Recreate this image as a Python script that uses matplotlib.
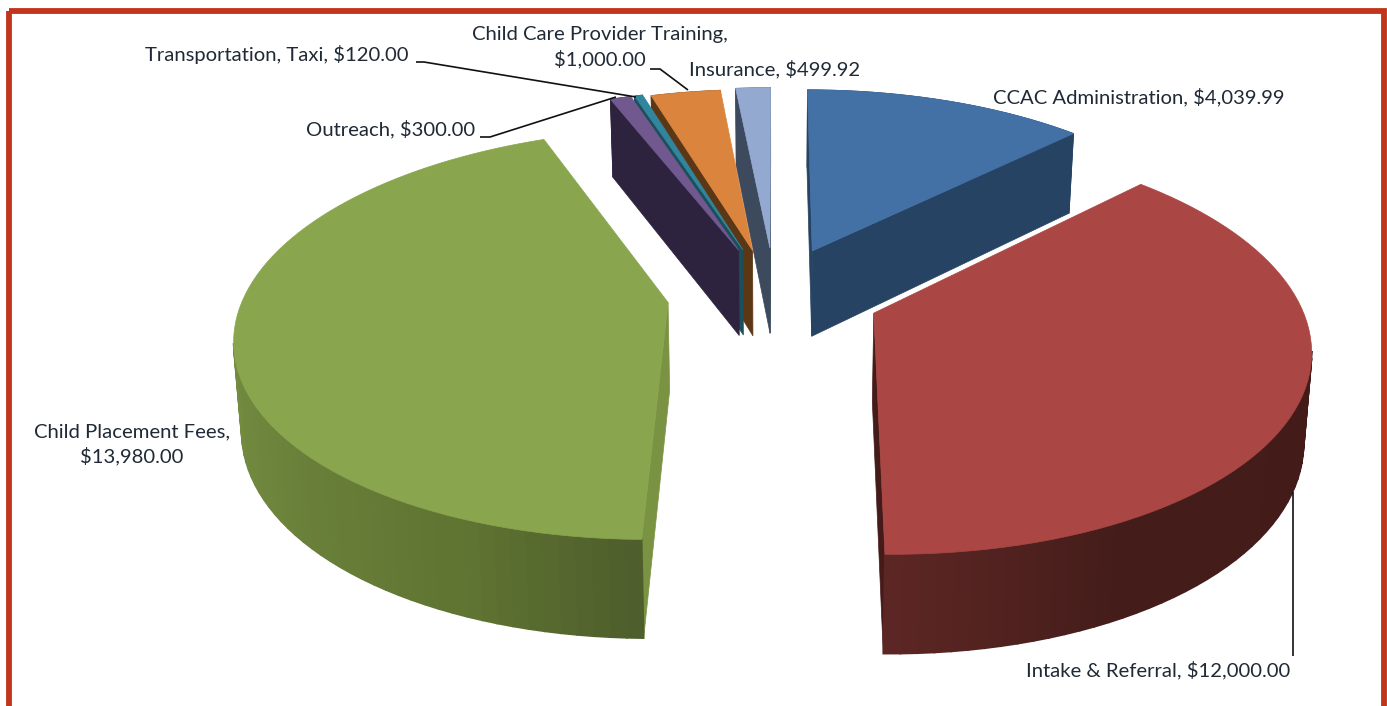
import numpy as np
import matplotlib
matplotlib.use("Agg")
import matplotlib.pyplot as plt
from matplotlib.patches import Polygon, Rectangle

# values of the pie
categories = ["CCAC Administration", "Intake & Referral", "Child Placement Fees", "Outreach",
              "Transportation, Taxi", "Child Care Provider Training", "Insurance"]
values = [4039.99, 12000.00, 13980.00, 300.00, 120.00, 1000.00, 499.92]

# colours per slice: top, cut face
top_colors = ["#4371a6", "#aa4644", "#89a54e", "#71588f", "#31859c", "#db843d", "#93a9cf"]
face_colors = ["#264363", "#451b19", "#7a9343", "#2e233f", "#1c4f5c", "#5c3715", "#3d4a5e"]
# wall shading along the rim of the two big slices: position on rim, rgb
wall_ramps = {1: ([0, 0.8, 1], [(66, 27, 24), (68, 29, 26), (92, 38, 36)]),
              2: ([0, 0.13, 0.35, 0.6, 1], [(78, 94, 44), (96, 116, 50), (108, 132, 60), (122, 146, 68), (128, 152, 72)])}

# painted back to front, the thin slices overlap from the right
draw_order = [0, 6, 5, 4, 3, 2, 1]

# world explode per slice, x and depth are not the same on this picture
explode_x = [0.235, 0.25, 0.255, 0.26, 0.26, 0.28, 0.25]
explode_y = [0.20, 0.345, 0.46, 0.20, 0.20, 0.19, 0.20]

# projection of the pie plane to pixels
VX, F, HORIZON, CY, P = 775.0, 421.0, -1000.0, 286.0, 0.152
HEIGHT = 87.0
BOTTOM_SQUEEZE = 0.985


def project(x, y, bottom=False):
    s = 1.0 / (1.0 + P * y)
    px = VX + F * x * s
    py = HORIZON + (CY - HORIZON) * s
    if bottom:
        px = VX + (px - VX) * BOTTOM_SQUEEZE
        py = py + HEIGHT * s ** 0.7
    return px, py


fig = plt.figure(figsize=(13.87, 7.06), dpi=100)
ax = fig.add_axes([0, 0, 1, 1])
ax.set_xlim(0, 1387)
ax.set_ylim(706, 0)
ax.axis("off")

total = sum(values)
angles = np.cumsum([0] + values) / total * 2 * np.pi

for z, i in enumerate(draw_order):
    base = 2 + z * 3
    t0, t1 = angles[i], angles[i + 1]
    mid = (t0 + t1) / 2
    ox = np.sin(mid) * explode_x[i]
    oy = np.cos(mid) * explode_y[i]
    theta = np.linspace(t0, t1, max(int((t1 - t0) * 30), 6))
    rim_x = ox + np.sin(theta)
    rim_y = oy + np.cos(theta)

    tx, ty = project(rim_x, rim_y)
    bx, by = project(rim_x, rim_y, bottom=True)
    ax_t, ay_t = project(ox, oy)
    ax_b, ay_b = project(ox, oy, bottom=True)

    # cut faces, only those turned to the viewer
    if tx[0] < ax_t:
        ax.add_patch(Polygon([(ax_t, ay_t), (tx[0], ty[0]), (bx[0], by[0]), (ax_b, ay_b)],
                             fc=face_colors[i], ec=face_colors[i], lw=0.5, zorder=base))
    if tx[-1] > ax_t:
        ax.add_patch(Polygon([(ax_t, ay_t), (tx[-1], ty[-1]), (bx[-1], by[-1]), (ax_b, ay_b)],
                             fc=face_colors[i], ec=face_colors[i], lw=0.5, zorder=base))

    # outer wall in strips so it can be shaded along the rim, back part stays hidden
    if i in wall_ramps:
        pos, rgb = wall_ramps[i]
        rgb = np.array(rgb) / 255
        for j in range(len(theta) - 1):
            if tx[j + 1] >= tx[j]:
                continue
            u = j / (len(theta) - 2)
            c = [np.interp(u, pos, rgb[:, k]) for k in range(3)]
            ax.add_patch(Polygon([(tx[j], ty[j]), (tx[j + 1], ty[j + 1]), (bx[j + 1], by[j + 1]), (bx[j], by[j])],
                                 fc=c, ec=c, lw=1.2, zorder=base + 1))
    else:
        ax.add_patch(Polygon(np.r_[np.c_[tx, ty], np.c_[bx, by][::-1]],
                             fc=face_colors[i], ec=face_colors[i], lw=0.5, zorder=base + 1))

    # top of the slice
    ax.add_patch(Polygon(np.r_[[(ax_t, ay_t)], np.c_[tx, ty]], fc=top_colors[i], ec=top_colors[i],
                         lw=0.5, zorder=base + 2))

# data labels
TEXT_COLOR = "#1f2a36"
FONT = dict(family="Lato", fontsize=14.6, color=TEXT_COLOR, zorder=40)


def money(v):
    return f"${v:,.2f}"


ax.text(1139, 97, f"{categories[0]}, {money(values[0])}", ha="center", va="center", **FONT)
ax.text(1158, 670, f"{categories[1]}, {money(values[1])}", ha="center", va="center", **FONT)
ax.text(132, 444, f"{categories[2]},\n{money(values[2])}", ha="center", va="center", linespacing=1.4, **FONT)
ax.text(391, 129, f"{categories[3]}, {money(values[3])}", ha="center", va="center", **FONT)
ax.text(277, 55, f"{categories[4]}, {money(values[4])}", ha="center", va="center", **FONT)
ax.text(600, 47, f"{categories[5]},\n{money(values[5])}", ha="center", va="center", linespacing=1.4, **FONT)
ax.text(775, 69, f"{categories[6]}, {money(values[6])}", ha="center", va="center", **FONT)

# leader lines
LEADER = dict(color="#111111", lw=1.2, zorder=39, solid_capstyle="butt")
ax.plot([480, 490, 616], [137, 137, 97], **LEADER)
ax.plot([416, 424, 636], [62, 62, 97], **LEADER)
ax.plot([650, 660, 688], [69, 69, 90], **LEADER)
ax.plot([1293, 1293], [492, 656], **LEADER)

# red frame, it runs off the bottom of the picture
ax.add_patch(Rectangle((9, 10.5), 1375, 720, fc="none", ec="#c0351c", lw=4.2, zorder=50, clip_on=True))

fig.savefig("out.png", dpi=100)
